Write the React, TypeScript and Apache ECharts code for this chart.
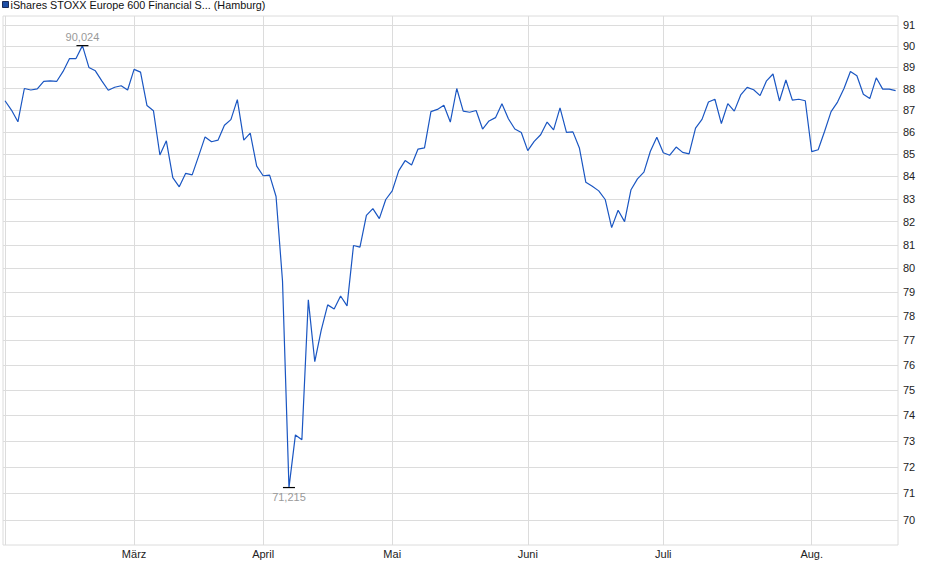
import { useEffect, useRef } from 'react';
import * as echarts from 'echarts';

const seriesName = 'iShares STOXX Europe 600 Financial S... (Hamburg)';

// daily closes, Feb 3 .. mid Aug (one value per trading day)
const closes = [
  87.43, 87.0, 86.46, 88.0, 87.93, 87.98, 88.33, 88.36, 88.33, 88.8,
  89.41, 89.41, 90.024, 88.99, 88.83, 88.36, 87.92, 88.06, 88.13, 87.93,
  88.9, 88.77, 87.21, 86.97, 84.95, 85.59, 83.94, 83.53, 84.13, 84.06,
  84.9, 85.77, 85.55, 85.62, 86.3, 86.56, 87.48, 85.62, 85.94, 84.45,
  84.02, 84.05, 83.1, 79.46, 71.215, 73.23, 73.04, 78.67, 76.13, 77.42,
  78.46, 78.29, 78.83, 78.42, 80.97, 80.9, 82.27, 82.57, 82.13, 82.97,
  83.35, 84.24, 84.7, 84.5, 85.22, 85.27, 86.93, 87.03, 87.22, 86.45,
  88.0, 86.95, 86.9, 86.98, 86.13, 86.5, 86.65, 87.29, 86.6, 86.13,
  85.97, 85.15, 85.57, 85.87, 86.45, 86.09, 87.1, 85.98, 86.0, 85.27,
  83.73, 83.55, 83.35, 82.97, 81.74, 82.5, 82.0, 83.4, 83.88, 84.18,
  85.12, 85.75, 85.05, 84.94, 85.31, 85.07, 85.0, 86.17, 86.57, 87.37,
  87.5, 86.38, 87.3, 86.95, 87.7, 88.05, 87.94, 87.67, 88.36, 88.68,
  87.42, 88.4, 87.46, 87.5, 87.43, 85.1, 85.19, 86.03, 86.93, 87.37,
  88.0, 88.8, 88.6, 87.73, 87.53, 88.5, 87.97, 87.97, 87.9,
];

// index of the first trading day of each month
const monthStarts = [0, 20, 40, 60, 81, 102, 125];
const monthNames = ['Feb.', 'März', 'April', 'Mai', 'Juni', 'Juli', 'Aug.'];

const yTicks = [70, 71, 72, 73, 74, 75, 76, 77, 78, 79, 80, 81, 82, 83, 84, 85, 86, 87, 88, 89, 90, 91];

const font = '"Liberation Sans", Arial, sans-serif';
const fmt = (v: number) => v.toFixed(3).replace('.', ',');

const App: React.FC = () => {
  const divRef = useRef<HTMLDivElement | null>(null);

  useEffect(() => {
    if (!divRef.current) return;
    const chart = echarts.init(divRef.current, null, { renderer: 'svg' });

    chart.setOption({
      animation: false,
      legend: {
        left: 2,
        top: -1,
        padding: 0,
        itemWidth: 6,
        itemHeight: 6,
        icon: 'rect',
        textStyle: { fontFamily: font, fontSize: 10.8, color: '#111', padding: [0, 0, 0, -3] },
        data: [
          {
            name: seriesName,
            itemStyle: { color: '#1c4ea6', borderColor: '#1a2a55', borderWidth: 1 },
          },
        ],
      },
      grid: {
        show: true,
        left: 3,
        right: 42,
        top: 16,
        bottom: 34,
        borderColor: '#dcdcdc',
        borderWidth: 1,
        containLabel: false,
      },
      xAxis: {
        type: 'value',
        min: -0.31,
        max: 138.37,
        axisLine: { show: false },
        axisTick: { show: false, customValues: monthStarts },
        splitLine: { show: true, lineStyle: { color: '#dcdcdc', width: 1 } },
        axisLabel: {
          customValues: monthStarts.slice(1),
          formatter: (v: number) => monthNames[monthStarts.indexOf(v)] ?? '',
          fontFamily: font,
          fontSize: 11,
          color: '#222',
          margin: 3,
        },
      },
      yAxis: {
        type: 'log',
        logBase: 10,
        position: 'right',
        min: 69.078,
        max: 91.45,
        axisLine: { show: false },
        axisTick: { show: false, customValues: yTicks },
        splitLine: { show: true, lineStyle: { color: '#dcdcdc', width: 1 } },
        axisLabel: {
          customValues: yTicks,
          formatter: (v: number) => String(Math.round(v)),
          fontFamily: font,
          fontSize: 11,
          color: '#222',
          margin: 5,
        },
      },
      series: [
        {
          name: seriesName,
          type: 'line',
          data: closes.map((v, i) => [i, v]),
          showSymbol: false,
          symbol: 'none',
          lineStyle: { color: '#1a56c2', width: 1.2 },
          itemStyle: { color: '#1a56c2' },
          markPoint: {
            symbol: 'rect',
            symbolSize: [12, 1.2],
            itemStyle: { color: '#000' },
            label: {
              fontFamily: font,
              fontSize: 11,
              color: '#999',
              formatter: (p: any) => fmt(p.value),
            },
            data: [
              { type: 'max', valueDim: 'y', label: { position: 'top', distance: 3 } },
              { type: 'min', valueDim: 'y', label: { position: 'bottom', distance: 3 } },
            ],
          },
        },
      ],
    });

    return () => chart.dispose();
  }, []);

  return (
    <div
      ref={divRef}
      style={{ position: 'fixed', left: 0, top: 0, width: 940, height: 579, background: '#fff' }}
    />
  );
};

export default App;
